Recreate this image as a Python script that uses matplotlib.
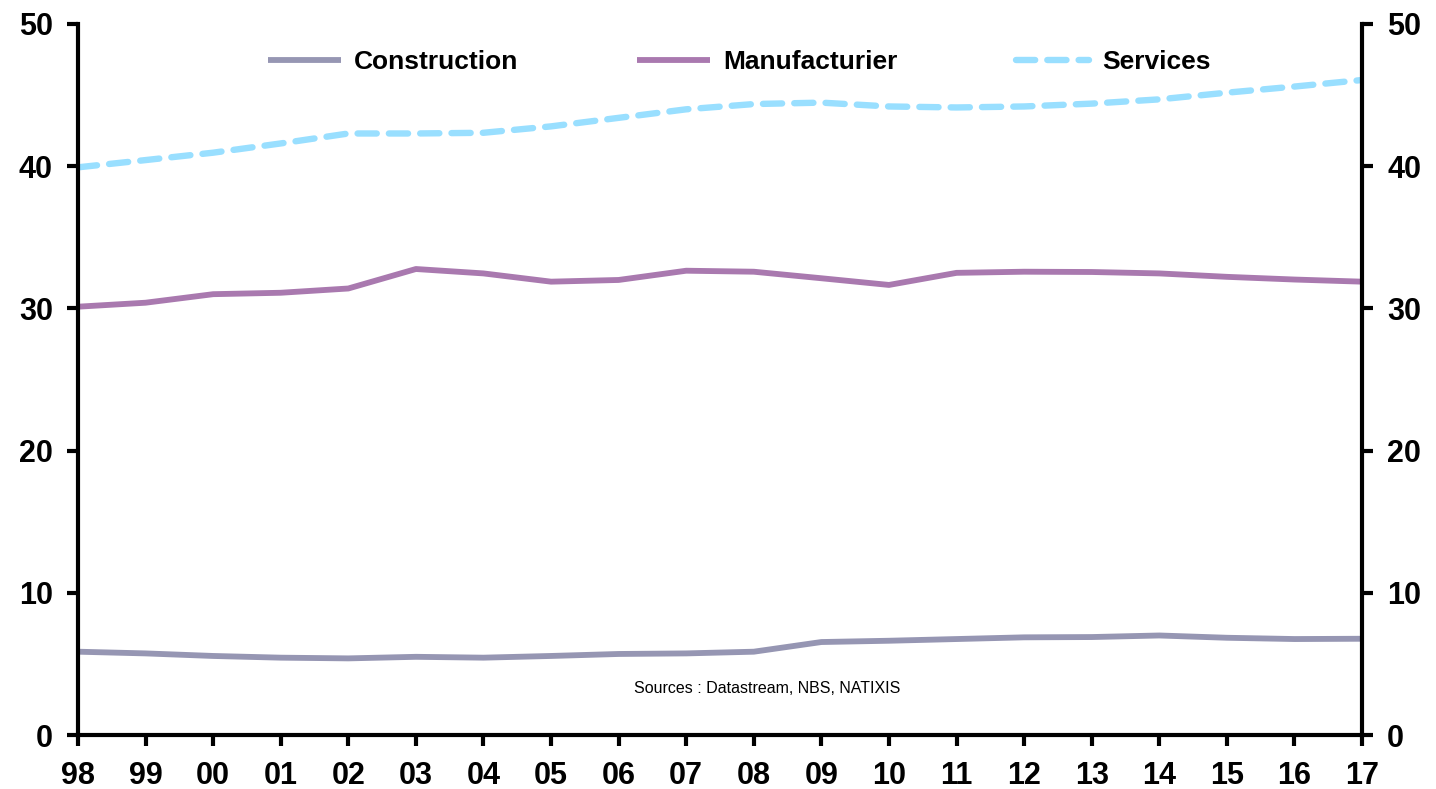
import matplotlib
matplotlib.use("Agg")
import matplotlib.pyplot as plt

years = ["98", "99", "00", "01", "02", "03", "04", "05", "06", "07",
         "08", "09", "10", "11", "12", "13", "14", "15", "16", "17"]
construction = [5.86, 5.74, 5.56, 5.44, 5.39, 5.50, 5.44, 5.56, 5.70, 5.74,
                5.86, 6.54, 6.63, 6.75, 6.87, 6.89, 7.00, 6.84, 6.75, 6.77]
manufacturing = [30.12, 30.40, 31.00, 31.10, 31.40, 32.77, 32.46, 31.88, 32.00, 32.65,
                 32.58, 32.12, 31.65, 32.50, 32.58, 32.56, 32.46, 32.22, 32.03, 31.88]
services = [39.92, 40.43, 40.95, 41.60, 42.30, 42.30, 42.35, 42.80, 43.40, 44.00,
            44.37, 44.47, 44.20, 44.13, 44.20, 44.40, 44.70, 45.17, 45.60, 46.06]
y_ticks = [0, 10, 20, 30, 40, 50]
series_names = ["Construction", "Manufacturier", "Services"]
source_text = "Sources : Datastream, NBS, NATIXIS"

plt.rcParams['font.family'] = ['Liberation Sans', 'DejaVu Sans']

fig = plt.figure(figsize=(14.36, 7.89), dpi=100)
ax = fig.add_axes([0.0543, 0.0684, 0.8942, 0.9012])

x = list(range(len(years)))
ax.plot(x, construction, color="#9696B3", lw=4.2, solid_capstyle="butt",
        solid_joinstyle="round", label=series_names[0], zorder=3)
ax.plot(x, manufacturing, color="#A979AF", lw=4.2, solid_capstyle="butt",
        solid_joinstyle="round", label=series_names[1], zorder=3)
ax.plot(x, services, color="#99DFFF", lw=4.6, dashes=(3.0, 1.9),
        dash_capstyle="round", label=series_names[2], zorder=3)

ax.set_xlim(0, len(years) - 1)
ax.set_ylim(0, 50)
ax.set_xticks(x)
ax.set_xticklabels(years)
ax.set_yticks(y_ticks)

for side in ["left", "right", "bottom"]:
    ax.spines[side].set_linewidth(3)
    ax.spines[side].set_color("black")
ax.spines["top"].set_visible(False)
for sp in ax.spines.values():
    sp.set_zorder(5)

ax.tick_params(axis="both", which="major", direction="out", length=8, width=3,
               labelsize=22, color="black")
ax.tick_params(axis="y", left=True, right=True, labelleft=True, labelright=True, pad=10)
ax.tick_params(axis="x", pad=11)
for lab in ax.get_xticklabels() + ax.get_yticklabels():
    lab.set_fontweight("bold")
for t in ax.yaxis.get_major_ticks():
    t.label1.set_fontweight("bold")
    t.label2.set_fontweight("bold")
    t.label2.set_fontsize(22)

leg = ax.legend(loc="upper center", bbox_to_anchor=(0.515, 1.0), ncol=3, frameon=False,
                prop={"weight": "bold", "size": 19}, handlelength=2.75,
                handletextpad=0.5, columnspacing=4.5, borderaxespad=0.6)

ax.text(0.537, 0.066, source_text, transform=ax.transAxes, ha="center", va="center",
        fontsize=11.5, color="black")

fig.savefig("out.png", dpi=100)
